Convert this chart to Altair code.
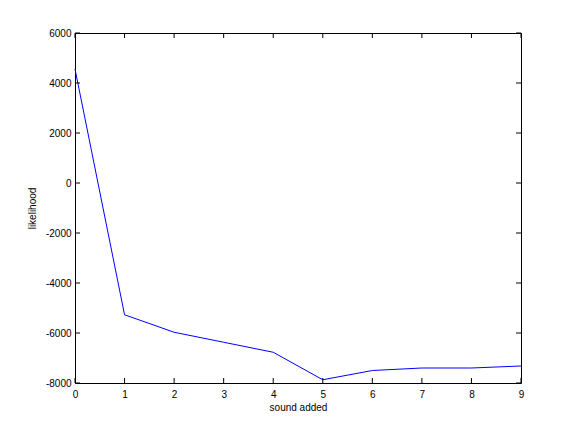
import altair as alt
import pandas as pd

x_vals = [0, 1, 2, 3, 4, 5, 6, 7, 8, 9]
likelihood = [4560, -5270, -5970, -6370, -6770, -7870, -7500, -7400, -7400, -7320]
x_ticks = [0, 1, 2, 3, 4, 5, 6, 7, 8, 9]
y_ticks = [-8000, -6000, -4000, -2000, 0, 2000, 4000, 6000]

W, H, T = 446, 350, 5
FONT = "Liberation Sans"

df = pd.DataFrame({"x": x_vals, "y": likelihood})
xt = pd.DataFrame({"t": x_ticks})
yt = pd.DataFrame({"t": y_ticks})

xs = alt.Scale(domain=[0, 9], nice=False, zero=False)
ys = alt.Scale(domain=[-8000, 6000], nice=False, zero=False)

xaxis = alt.Axis(values=x_ticks, title="sound added", ticks=False, domain=False, grid=False,
                 labelPadding=6, labelFont=FONT, labelFontSize=10, labelColor="black",
                 labelFlush=False, labelOverlap=False,
                 titleFont=FONT, titleFontSize=10, titleFontWeight="normal", titleColor="black",
                 titlePadding=3, labelExpr="'' + datum.value")
yaxis = alt.Axis(values=y_ticks, title="likelihood", ticks=False, domain=False, grid=False,
                 labelPadding=4, labelFont=FONT, labelFontSize=10, labelColor="black",
                 labelFlush=False, labelOverlap=False,
                 titleFont=FONT, titleFontSize=10, titleFontWeight="normal", titleColor="black",
                 titlePadding=8, labelExpr="'' + datum.value")

line = alt.Chart(df).mark_line(color="#0000ff", strokeWidth=1).encode(
    x=alt.X("x:Q", scale=xs, axis=xaxis),
    y=alt.Y("y:Q", scale=ys, axis=yaxis),
)

bottom = alt.Chart(xt).mark_rule(color="black", strokeWidth=1).encode(
    x=alt.X("t:Q", scale=xs, axis=xaxis), y=alt.value(H), y2=alt.value(H - T))
top = alt.Chart(xt).mark_rule(color="black", strokeWidth=1).encode(
    x=alt.X("t:Q", scale=xs, axis=xaxis), y=alt.value(0), y2=alt.value(T))
left = alt.Chart(yt).mark_rule(color="black", strokeWidth=1).encode(
    y=alt.Y("t:Q", scale=ys, axis=yaxis), x=alt.value(0), x2=alt.value(T))
right = alt.Chart(yt).mark_rule(color="black", strokeWidth=1).encode(
    y=alt.Y("t:Q", scale=ys, axis=yaxis), x=alt.value(W), x2=alt.value(W - T))

chart = alt.layer(line, bottom, top, left, right).properties(
    width=W, height=H,
    autosize=alt.AutoSizeParams(type="none"),
    padding={"left": 67, "top": 25, "right": 40, "bottom": 30},
    background="white",
).configure_view(stroke="black", strokeWidth=1)

chart.save("out.html", embed_options={"renderer": "svg", "actions": False})
